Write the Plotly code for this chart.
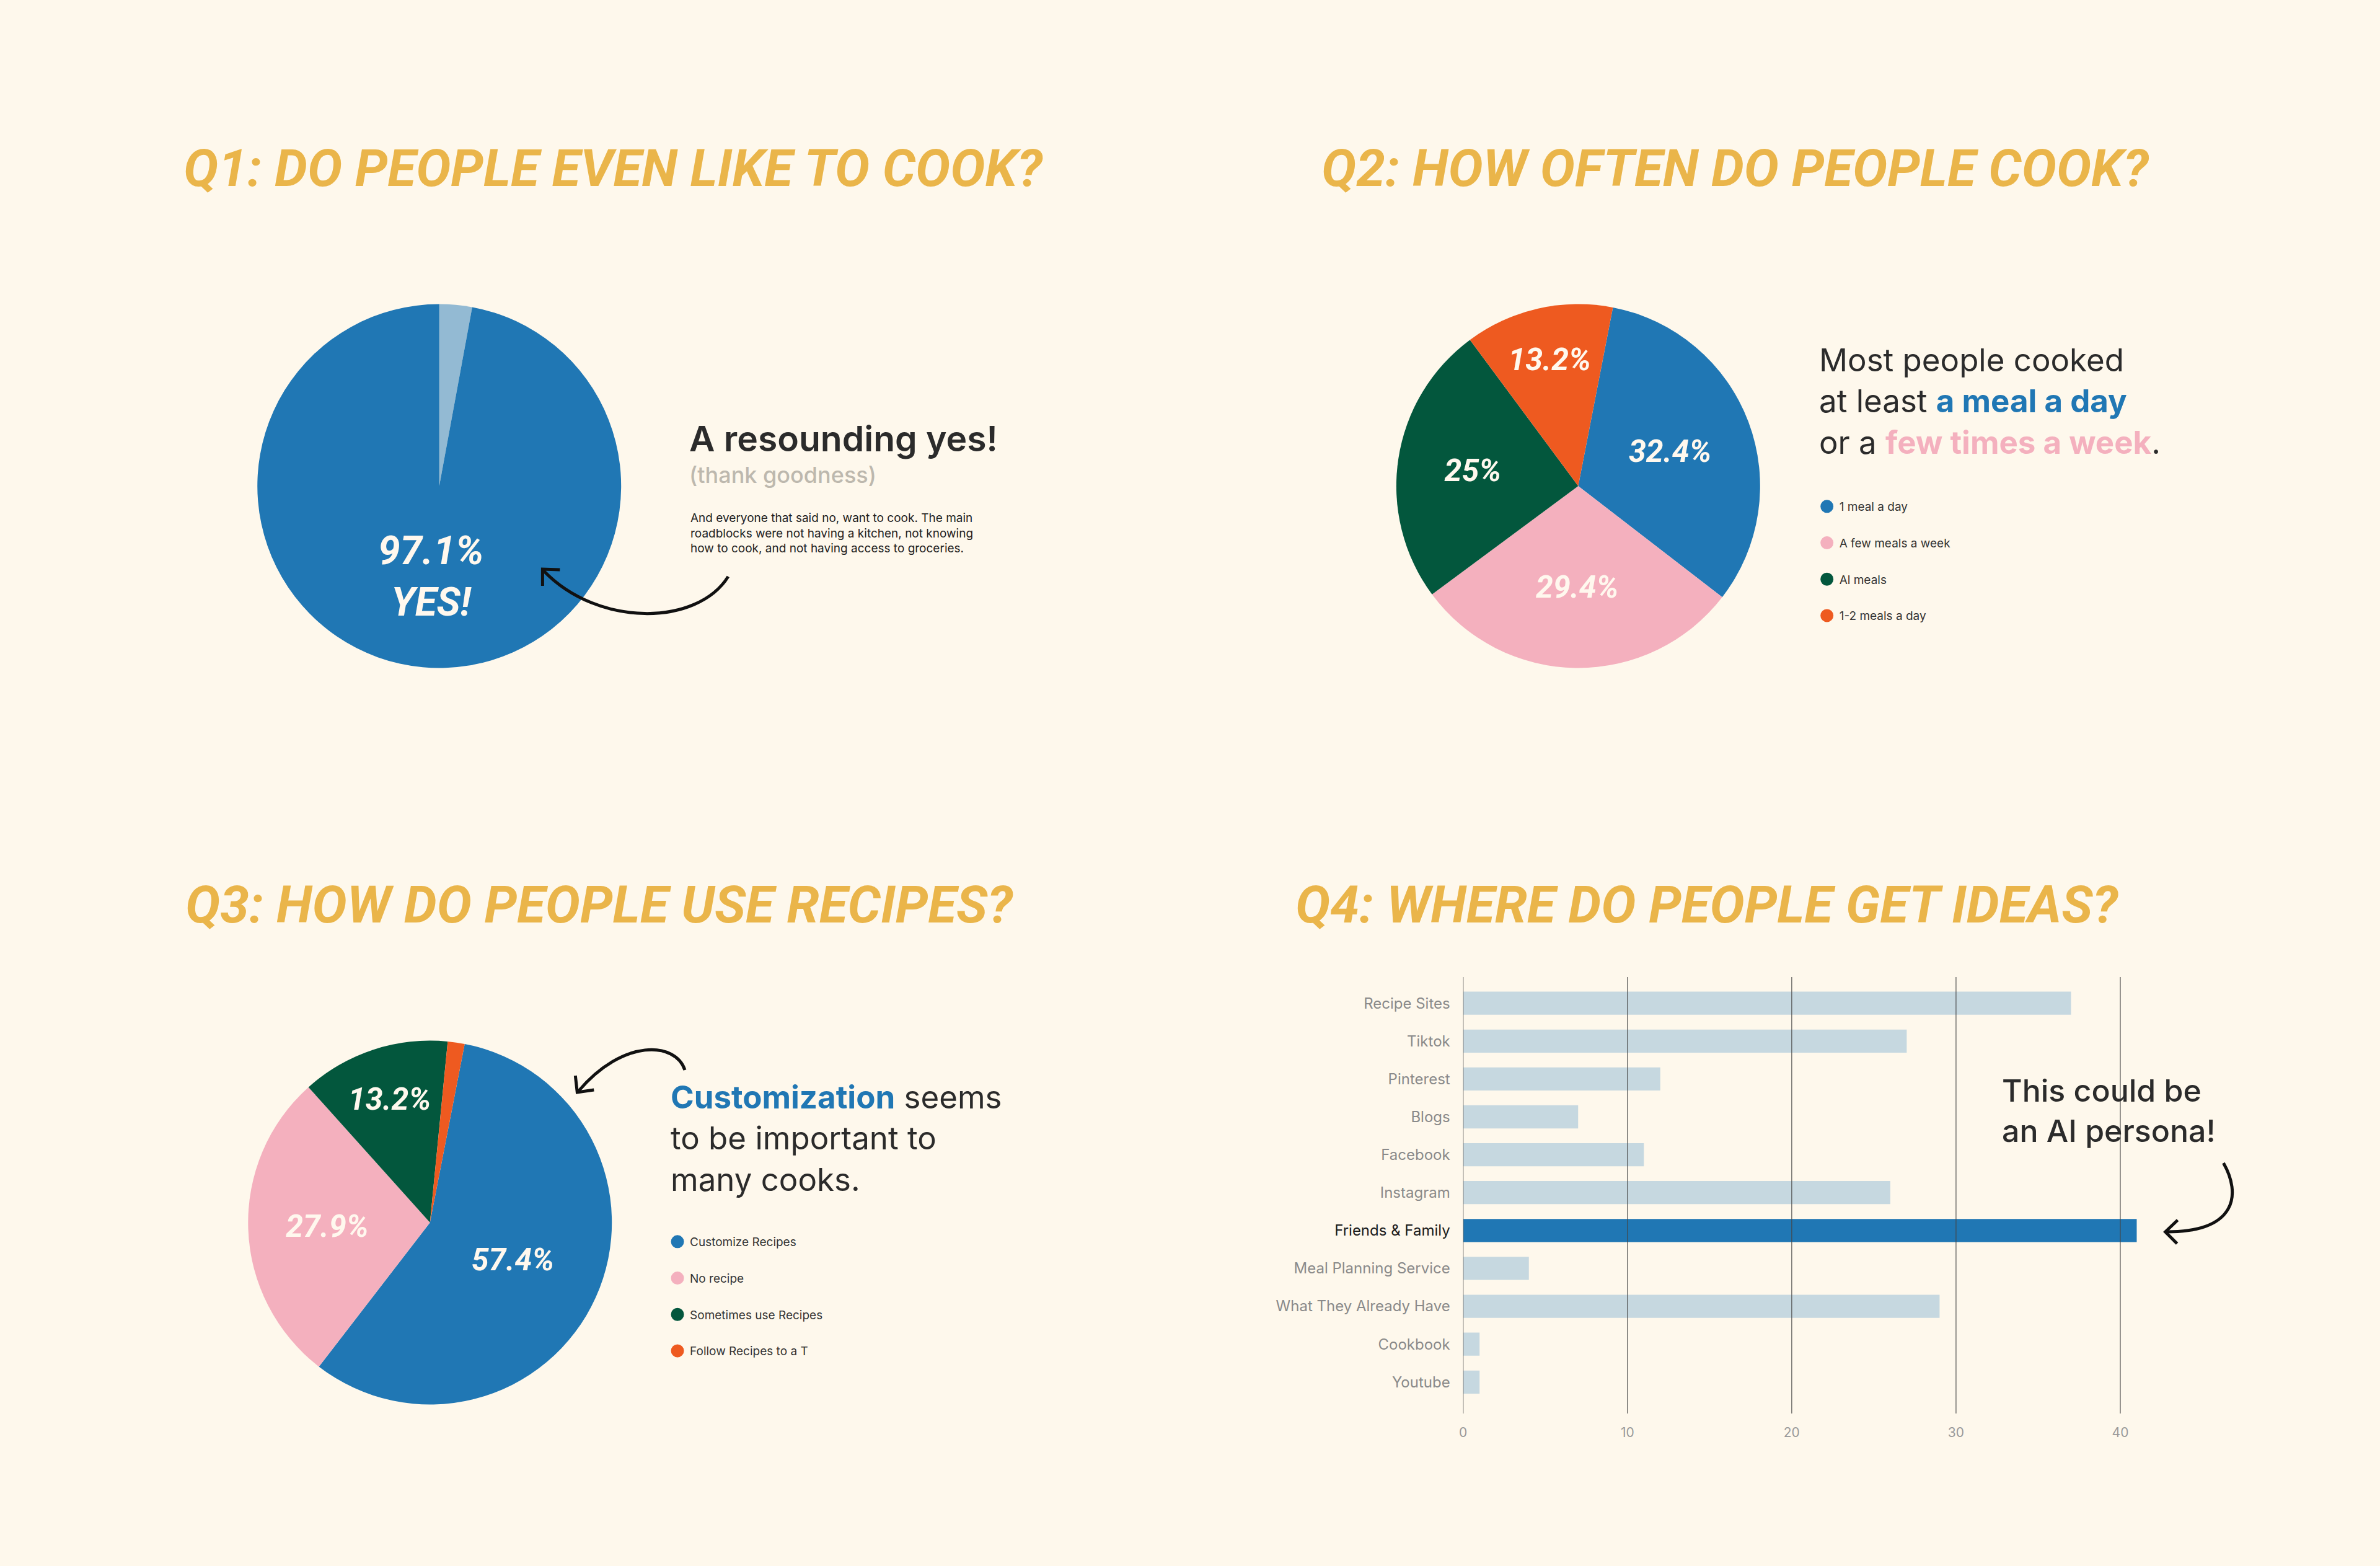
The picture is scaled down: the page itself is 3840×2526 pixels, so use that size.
import plotly.graph_objects as go

W, H = 3840, 2526

BG = "#FEF8EC"
GOLD = "#EAB54A"
INK = "#2B2B2B"
BLUE = "#2077B4"
PINK = "#F4B0BE"
GREEN = "#03573D"
ORANGE = "#EE5A20"
PALE_BLUE = "#93BAD3"
BAR_GREY = "#C6D8E0"
CREAM = "#FFF8EE"

TITLE_FONT = "Roboto, Liberation Sans Narrow, sans-serif"
BODY_FONT = "Inter, Poppins, Open Sans, sans-serif"

# Q1 - do people like to cook
q1_labels = ["No", "Yes"]
q1_values = [2.9, 97.1]
q1_colors = [PALE_BLUE, BLUE]

# Q2 - how often
q2_labels = ["1 meal a day", "A few meals a week", "Al meals", "1-2 meals a day"]
q2_values = [32.4, 29.4, 25.0, 13.2]
q2_colors = [BLUE, PINK, GREEN, ORANGE]

# Q3 - recipes
q3_labels = ["Customize Recipes", "No recipe", "Sometimes use Recipes", "Follow Recipes to a T"]
q3_values = [57.4, 27.9, 13.2, 1.5]
q3_colors = [BLUE, PINK, GREEN, ORANGE]

# Q4 - where ideas come from
q4_sources = ["Recipe Sites", "Tiktok", "Pinterest", "Blogs", "Facebook", "Instagram",
              "Friends & Family", "Meal Planning Service", "What They Already Have",
              "Cookbook", "Youtube"]
q4_counts = [37, 27, 12, 7, 11, 26, 41, 4, 29, 1, 1]
q4_highlight = "Friends & Family"
q4_ticks = [0, 10, 20, 30, 40]


def px_x(v):
    return v / W


def px_y(v):
    return 1 - v / H


def pt(p):
    return f"{px_x(p[0]):.5f},{px_y(p[1]):.5f}"


def curve(p0, c1, c2, p1):
    return f"M{pt(p0)} C{pt(c1)} {pt(c2)} {pt(p1)}"


def polyline(*pts):
    return "M" + " L".join(pt(p) for p in pts)


fig = go.Figure()

# pies
pie_text_font = dict(family=TITLE_FONT, color=CREAM, weight=700, style="italic")

fig.add_trace(go.Pie(
    labels=q1_labels, values=q1_values, sort=False, direction="clockwise",
    marker=dict(colors=q1_colors, line=dict(width=0)),
    texttemplate=["", "%{value}%<br>YES!"], textposition=["none", "inside"],
    insidetextorientation="horizontal", textfont=dict(size=64, **pie_text_font),
    domain=dict(x=[px_x(409), px_x(997)], y=[px_y(1078), px_y(490)]),
    showlegend=False, hoverinfo="skip"))

fig.add_trace(go.Pie(
    labels=q2_labels, values=q2_values, sort=False, direction="clockwise", rotation=11,
    marker=dict(colors=q2_colors, line=dict(width=0)),
    texttemplate="%{value}%", textposition="inside",
    insidetextorientation="horizontal", textfont=dict(size=50, **pie_text_font),
    domain=dict(x=[px_x(2250), px_x(2838)], y=[px_y(1078), px_y(490)]),
    showlegend=False, hoverinfo="skip"))

fig.add_trace(go.Pie(
    labels=q3_labels, values=q3_values, sort=False, direction="clockwise", rotation=11,
    marker=dict(colors=q3_colors, line=dict(width=0)),
    texttemplate="%{value}%", textposition=["inside", "inside", "inside", "none"],
    insidetextorientation="horizontal", textfont=dict(size=50, **pie_text_font),
    domain=dict(x=[px_x(394), px_x(982)], y=[px_y(2266), px_y(1678)]),
    showlegend=False, hoverinfo="skip"))

# legend entries with round markers
for labels, colors, leg in [(q2_labels, q2_colors, "legend"), (q3_labels, q3_colors, "legend2")]:
    for lab, col in zip(labels, colors):
        fig.add_trace(go.Scatter(
            x=[None], y=[None], mode="markers", name=lab,
            marker=dict(size=16, color=col, line=dict(width=6, color=col)),
            xaxis="x2", yaxis="y2", legend=leg, legendgroup=leg + lab,
            hoverinfo="skip"))

# Q4 bars
bar_colors = [BLUE if s == q4_highlight else BAR_GREY for s in q4_sources]
tick_text = [f"<span style='color:#1A1A1A'>{s}</span>" if s == q4_highlight else s
             for s in q4_sources]
fig.add_trace(go.Bar(
    x=q4_counts, y=q4_sources, orientation="h",
    marker=dict(color=bar_colors, line=dict(width=0)),
    showlegend=False, hoverinfo="skip"))

for v in q4_ticks:
    fig.add_shape(type="line", xref="x", yref="y domain", x0=v, x1=v, y0=0, y1=1,
                  line=dict(color="rgba(70,70,70,0.75)", width=1.5), layer="above")

# titles
titles = [("Q1: DO PEOPLE EVEN LIKE TO COOK?", 984, 272),
          ("Q2: HOW OFTEN DO PEOPLE COOK?", 2798, 272),
          ("Q3: HOW DO PEOPLE USE RECIPES?", 962, 1459),
          ("Q4: WHERE DO PEOPLE GET IDEAS?", 2752, 1459)]
for text, x, y in titles:
    fig.add_annotation(text=text, x=px_x(x), y=px_y(y), xref="paper", yref="paper",
                       xanchor="center", yanchor="middle", showarrow=False,
                       font=dict(family=TITLE_FONT, size=84, color=GOLD,
                                 weight=700, style="italic"))


def note(lines, x, first_base, last_base, size, color=INK, weight=400):
    # one annotation per text block, centred on the block's middle line
    mid = (first_base + last_base) / 2 - 0.35 * size
    fig.add_annotation(text="<br>".join(lines), x=px_x(x), y=px_y(mid),
                       xref="paper", yref="paper", xanchor="left", yanchor="middle",
                       align="left", showarrow=False, borderpad=0,
                       font=dict(family=BODY_FONT, size=size, color=color, weight=weight))


# Q1 text
note(["A resounding yes!"], 1106, 727, 727, 57, weight=600)
note(["(thank goodness)"], 1106, 779, 779, 36, color="#BDB8AE", weight=500)
note(["And everyone that said no, want to cook. The main",
      "roadblocks were not having a kitchen, not knowing",
      "how to cook, and not having access to groceries."],
     1108, 840, 894, 19, color="#222222")

# Q2 text
note(["Most people cooked",
      f"at least <span style='color:{BLUE}'><b>a meal a day</b></span>",
      f"or a <span style='color:{PINK}'><b>few times a week</b></span>."],
     2932, 610, 720, 51)

# Q3 text
note([f"<span style='color:{BLUE}'><b>Customization</b></span> seems",
      "to be important to",
      "many cooks."],
     1076, 1799, 1908, 51)

# Q4 text
note(["This could be", "an AI persona!"], 3228, 1781, 1836, 50, weight=500)

# hand drawn arrows
arrow_line = dict(color="#111111", width=5)
arrows = [
    curve((1170, 930), (1120, 1010), (960, 1012), (872, 921)),
    polyline((898, 919), (870, 918), (870, 945)),
    curve((1100, 1726), (1085, 1680), (1000, 1675), (928, 1760)),
    polyline((923, 1735), (926, 1762), (953, 1758)),
    curve((3587, 1876), (3615, 1925), (3610, 1987), (3495, 1987)),
    polyline((3513, 1968), (3493, 1987), (3512, 2006)),
]
for p in arrows:
    fig.add_shape(type="path", path=p, xref="paper", yref="paper",
                  line=arrow_line, layer="above")

legend_style = dict(xanchor="left", yanchor="top", bgcolor="rgba(0,0,0,0)",
                    font=dict(family=BODY_FONT, size=19, color="#333333"),
                    tracegroupgap=31, itemsizing="trace", itemclick=False,
                    itemdoubleclick=False)

fig.update_layout(
    width=W, height=H, margin=dict(l=0, r=0, t=0, b=0),
    paper_bgcolor=BG, plot_bgcolor=BG,
    showlegend=True,
    legend=dict(x=px_x(2926), y=px_y(798), **legend_style),
    legend2=dict(x=px_x(1068), y=px_y(1984), **legend_style),
    xaxis=dict(domain=[px_x(2358), px_x(3553)], range=[0, 45], tickvals=q4_ticks,
               showgrid=False, zeroline=False, showline=False, ticks="",
               tickfont=dict(family=BODY_FONT, size=21, color="#9A9A9A"),
               ticklabelstandoff=16, fixedrange=True),
    yaxis=dict(domain=[px_y(2280), px_y(1576)], categoryorder="array",
               categoryarray=q4_sources, range=[10.83, -0.69],
               tickvals=q4_sources, ticktext=tick_text,
               showgrid=False, zeroline=False, showline=False, ticks="",
               tickfont=dict(family=BODY_FONT, size=24, color="#8A8A8A"),
               ticklabelstandoff=20, fixedrange=True),
    xaxis2=dict(visible=False, domain=[0, 0.01]),
    yaxis2=dict(visible=False, domain=[0, 0.01]),
    bargap=0.39,
)

fig.write_html("out.html", config={"displayModeBar": False},
               post_script="document.body.style.margin = '0';")
